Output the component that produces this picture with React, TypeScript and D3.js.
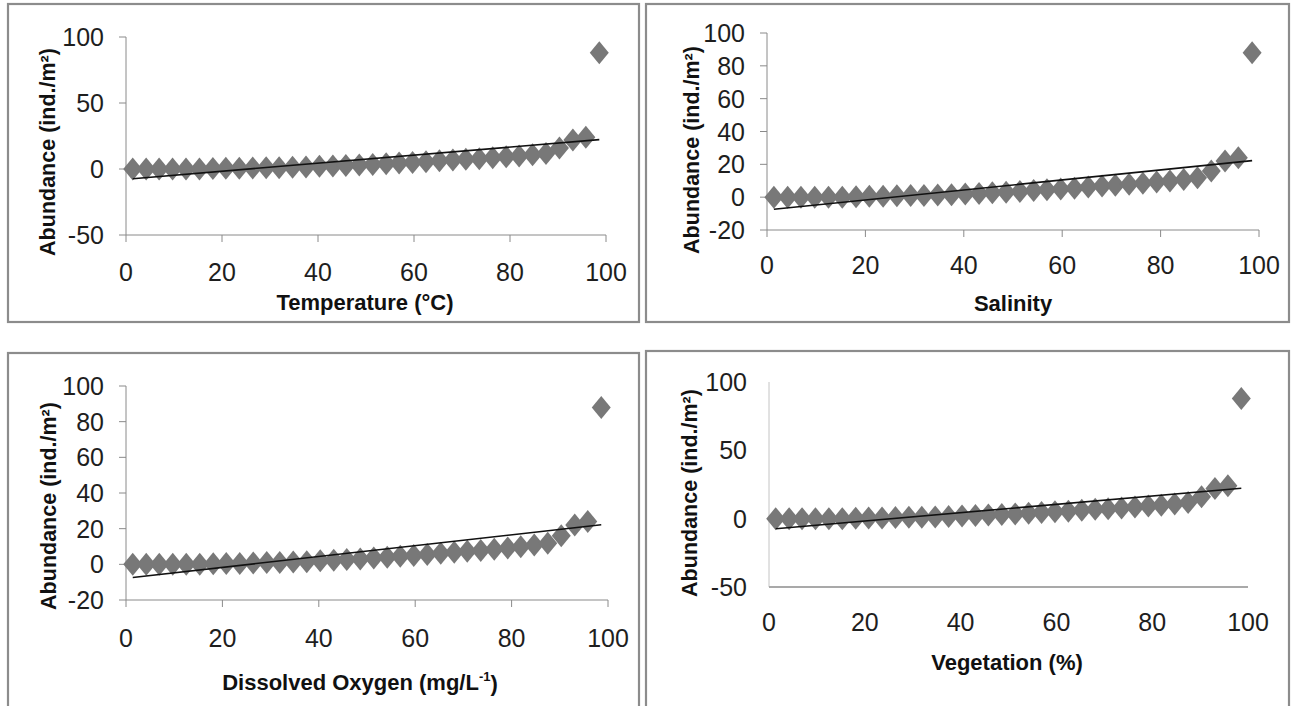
import React from 'react';
import * as d3 from 'd3';

// ---- data ----
const xPercent = [1.4, 4.2, 6.9, 9.7, 12.5, 15.3, 18.1, 20.8, 23.6, 26.4, 29.2, 31.9, 34.7, 37.5, 40.3, 43.1, 45.8, 48.6, 51.4, 54.2, 56.9, 59.7, 62.5, 65.3, 68.1, 70.8, 73.6, 76.4, 79.2, 81.9, 84.7, 87.5, 90.3, 93.1, 95.8, 98.6];
const abundance = [0, 0, 0, 0, 0, 0, 0.3, 0.5, 0.5, 0.8, 1, 1, 1.3, 1.5, 2, 2.3, 2.7, 3, 3.5, 4, 4.5, 5, 5.5, 6.2, 6.8, 7.3, 7.8, 8.5, 9.2, 9.8, 10.8, 11.8, 16, 22, 24, 88];
const xTicks = [0, 20, 40, 60, 80, 100];
const yTicksWide = [-50, 0, 50, 100];
const yTicksNarrow = [-20, 0, 20, 40, 60, 80, 100];
const panelTitles = ['Temperature (°C)', 'Salinity', 'Dissolved Oxygen (mg/L', 'Vegetation (%)'];
const panelTitleSup = ['', '', '-1', ''];
const yTitle = 'Abundance (ind./m²)';

// ---- layout ----
const layout = [
  { frame: [8, 4, 631, 318], x0: 126, x1: 606, yTop: 37, yBot: 235, ticks: yTicksWide, tickMarks: true, xLabelY: 272, titleX: 365, titleY: 302, yTitleX: 47, yTitleY: 152 },
  { frame: [646, 4, 643, 318], x0: 767, x1: 1259, yTop: 33, yBot: 230, ticks: yTicksNarrow, tickMarks: true, xLabelY: 265, titleX: 1013, titleY: 303, yTitleX: 691, yTitleY: 150 },
  { frame: [8, 353, 631, 380], x0: 126, x1: 608, yTop: 386, yBot: 600, ticks: yTicksNarrow, tickMarks: true, xLabelY: 638, titleX: 360, titleY: 682, yTitleX: 48, yTitleY: 506 },
  { frame: [646, 351, 643, 380], x0: 769, x1: 1248, yTop: 382, yBot: 587, ticks: yTicksWide, tickMarks: false, xLabelY: 622, titleX: 1007, titleY: 662, yTitleX: 689, yTitleY: 493 },
];

const TICK_FONT = "'Liberation Sans Narrow', 'Liberation Sans', Arial, sans-serif";
const TITLE_FONT = "'Liberation Sans', Arial, sans-serif";
const diamond = 'M0,-11.5L9.5,0L0,11.5L-9.5,0Z';

function regression(xs: number[], ys: number[]) {
  const mx = d3.mean(xs) as number;
  const my = d3.mean(ys) as number;
  const sxy = d3.sum(xs, (x, i) => (x - mx) * (ys[i] - my));
  const sxx = d3.sum(xs, (x) => (x - mx) * (x - mx));
  const slope = sxy / sxx;
  return { slope, intercept: my - slope * mx };
}

function Panel({ p, idx }: { p: any; idx: number }) {
  const x = d3.scaleLinear().domain([0, 100]).range([p.x0, p.x1]);
  const y = d3.scaleLinear().domain([p.ticks[0], p.ticks[p.ticks.length - 1]]).range([p.yBot, p.yTop]);
  const { slope, intercept } = regression(xPercent, abundance);
  const xmin = d3.min(xPercent) as number;
  const xmax = d3.max(xPercent) as number;
  const trend = d3.line<number>().x((v) => x(v)).y((v) => y(intercept + slope * v))([xmin, xmax]) as string;
  const axisColor = '#8a8a8a';
  return (
    <g>
      <rect x={p.frame[0]} y={p.frame[1]} width={p.frame[2]} height={p.frame[3]} fill="#fff" stroke="#8c8c8c" strokeWidth={2.2} />
      {/* axes */}
      <line x1={p.x0} x2={p.x0} y1={p.yTop} y2={p.yBot} stroke={p.tickMarks ? axisColor : '#c4c4c4'} strokeWidth={1} />
      <line x1={p.x0} x2={p.x1} y1={p.yBot} y2={p.yBot} stroke={p.tickMarks ? axisColor : '#a9a9a9'} strokeWidth={p.tickMarks ? 1 : 2} />
      {p.tickMarks && p.ticks.map((t: number) => (
        <line key={'yt' + t} x1={p.x0 - 7} x2={p.x0} y1={y(t)} y2={y(t)} stroke={axisColor} />
      ))}
      {p.tickMarks && xTicks.map((t) => (
        <line key={'xt' + t} x1={x(t)} x2={x(t)} y1={p.yBot} y2={p.yBot + 7} stroke={axisColor} />
      ))}
      {p.ticks.map((t: number) => (
        <text key={'yl' + t} x={p.x0 - 22} y={y(t)} dy="0.36em" textAnchor="end" fontFamily={TICK_FONT} fontSize={25} fill="#1e1e1e">{t}</text>
      ))}
      {xTicks.map((t) => (
        <text key={'xl' + t} x={x(t)} y={p.xLabelY} dy="0.36em" textAnchor="middle" fontFamily={TICK_FONT} fontSize={25} fill="#1e1e1e">{t}</text>
      ))}
      {/* points */}
      {xPercent.map((v, i) => (
        <path key={'pt' + i} d={diamond} transform={`translate(${x(v)},${y(abundance[i])})`} fill="#787878" />
      ))}
      <path d={trend} stroke="#111" strokeWidth={1.6} fill="none" />
      {/* titles */}
      <text x={p.titleX} y={p.titleY} dy="0.36em" textAnchor="middle" fontFamily={TITLE_FONT} fontWeight="bold" fontSize={22} fill="#111">
        {panelTitles[idx]}
        {panelTitleSup[idx] && <tspan fontSize={13} dy="-0.7em">{panelTitleSup[idx]}</tspan>}
        {panelTitleSup[idx] && <tspan dy="0.45em">)</tspan>}
      </text>
      <text transform={`translate(${p.yTitleX},${p.yTitleY}) rotate(-90)`} dy="0.36em" textAnchor="middle" fontFamily={TITLE_FONT} fontWeight="bold" fontSize={21.5} fill="#111">{yTitle}</text>
    </g>
  );
}

export default function App() {
  return (
    <svg width={1291} height={706} style={{ position: 'absolute', left: 0, top: 0, background: '#fff' }}>
      <rect x={0} y={0} width={1291} height={706} fill="#fff" />
      {layout.map((p, i) => <Panel key={i} p={p} idx={i} />)}
    </svg>
  );
}
